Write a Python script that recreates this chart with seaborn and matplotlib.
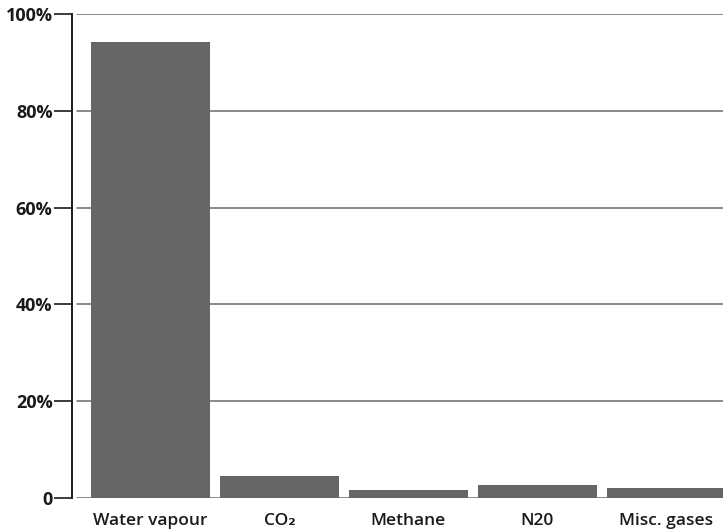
import matplotlib
matplotlib.use("Agg")
import numpy as np
import pandas as pd
import seaborn as sns
import matplotlib.pyplot as plt

# greenhouse contribution
gases = ["Water vapour", "CO\u2082", "Methane", "N20", "Misc. gases"]
share = [94.2, 4.5, 1.7, 2.7, 2.0]
y_ticks = [0, 20, 40, 60, 80, 100]
y_labels = ["0", "20%", "40%", "60%", "80%", "100%"]

sns.set_theme(style="white")
plt.rcParams['font.family'] = ['Open Sans', 'DejaVu Sans']

df = pd.DataFrame({"gas": gases, "share": share})

fig = plt.figure(figsize=(7.23, 5.29), dpi=100)
ax = fig.add_axes([0.0996, 0.0586, 0.9004, 0.9149])

for t in y_ticks:
    ax.axhline(t, xmin=0.008, color="#6a6a6a", lw=1.1, zorder=0)

sns.barplot(data=df, x="gas", y="share", color="#666666", width=0.92,
            saturation=1, linewidth=0, ax=ax, zorder=2)

ax.set_ylim(0, 100)
ax.set_xlim(-0.61, 4.44)
ax.set_yticks(y_ticks)
ax.set_yticklabels(y_labels, fontsize=13, fontweight="bold", color="#1a1a1a")
ax.tick_params(axis="y", left=True, length=13, width=1.2, color="#1a1a1a", pad=1)
ax.tick_params(axis="x", bottom=False, labelsize=12.5, colors="#1a1a1a", pad=5)
for lab in ax.get_xticklabels():
    lab.set_fontweight("semibold")
ax.set_xlabel("")
ax.set_ylabel("")

for side in ["top", "right", "bottom"]:
    ax.spines[side].set_visible(False)
ax.spines["left"].set_color("#1a1a1a")
ax.spines["left"].set_linewidth(1.4)

fig.savefig("out.png", dpi=100)
